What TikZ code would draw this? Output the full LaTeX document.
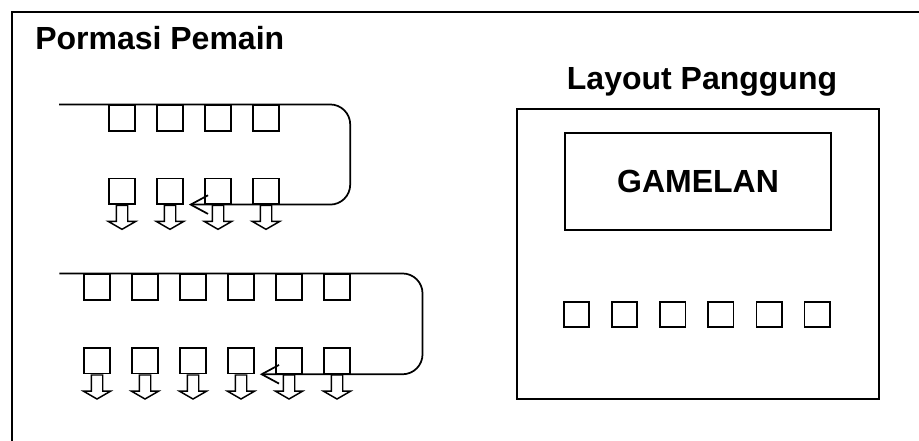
\documentclass[tikz,border=0pt]{standalone}
\usepackage{fontspec}
\setmainfont{Liberation Sans}
\usetikzlibrary{positioning, shapes.arrows, arrows.meta}

\begin{document}
\begin{tikzpicture}[
            x=0.75pt, y=-0.75pt,
            pemain/.style={draw=black, line width=1.3pt, rectangle, minimum size=19pt, inner sep=0pt},
            panah/.style={draw=black, line width=1.1pt, single arrow, shape border rotate=270, minimum height=18pt, minimum width=19.5pt, inner sep=3.75pt, single arrow head extend=6pt, single arrow tip angle=120, anchor=tail},
            alur/.style={line width=1.3pt, rounded corners=15pt, -{Straight Barb[length=13pt, width=14pt]}},
            judul/.style={font=\fontsize{24}{28}\selectfont\bfseries, inner sep=0pt},
            kotak/.style={draw=black, line width=1.3pt, rectangle, inner sep=0pt}
        ]
        \useasboundingbox (0,0) rectangle (919,441);

        % Rahmen
        \draw[line width=1.5pt] (12,441) -- (12,12) -- (919,12);
        \node[judul, anchor=base west] (pp) at (35,50) {Pormasi Pemain};

        % Formasi 1
        \node[pemain] (a1) at (122,118) {};
        \node[pemain, right=15.7pt of a1] (a2) {};
        \node[pemain, right=15.7pt of a2] (a3) {};
        \node[pemain, right=15.7pt of a3] (a4) {};
        \node[pemain, below=34.5pt of a1] (b1) {};
        \node[pemain, right=15.7pt of b1] (b2) {};
        \node[pemain, right=15.7pt of b2] (b3) {};
        \node[pemain, right=15.7pt of b3] (b4) {};
        \node[panah] at (b1.south) {};
        \node[panah] at (b2.south) {};
        \node[panah] at (b3.south) {};
        \node[panah] at (b4.south) {};

        \coordinate[left=37pt of a1.north west] (m1);
        \coordinate[right=53pt of a4.north east] (k1);
        \coordinate[right=4pt of b2.south east] (u1);
        \draw[alur] (m1) -- (k1) -- (k1 |- b4.south) -- (u1);

        % Formasi 2
        \node[pemain] (c1) at (97,287) {};
        \node[pemain, right=15.7pt of c1] (c2) {};
        \node[pemain, right=15.7pt of c2] (c3) {};
        \node[pemain, right=15.7pt of c3] (c4) {};
        \node[pemain, right=15.7pt of c4] (c5) {};
        \node[pemain, right=15.7pt of c5] (c6) {};
        \node[pemain, below=35pt of c1] (d1) {};
        \node[pemain, right=15.7pt of d1] (d2) {};
        \node[pemain, right=15.7pt of d2] (d3) {};
        \node[pemain, right=15.7pt of d3] (d4) {};
        \node[pemain, right=15.7pt of d4] (d5) {};
        \node[pemain, right=15.7pt of d5] (d6) {};
        \node[panah] at (d1.south) {};
        \node[panah] at (d2.south) {};
        \node[panah] at (d3.south) {};
        \node[panah] at (d4.south) {};
        \node[panah] at (d5.south) {};
        \node[panah] at (d6.south) {};

        \coordinate[left=18pt of c1.north west] (m2);
        \coordinate[right=54pt of c6.north east] (k2);
        \coordinate[right=4pt of d4.south east] (u2);
        \draw[alur] (m2) -- (k2) -- (k2 |- d6.south) -- (u2);

        % Panggung
        \node[kotak, minimum width=271.5pt, minimum height=217.5pt] (pg) at (698,254) {};
        \node[judul, above=9pt of pg, xshift=3pt] (lp) {Layout Panggung};
        \node[kotak, judul, draw, minimum width=200pt, minimum height=73pt, below=18pt of pg.north] (gm) {GAMELAN};
        \node[pemain] (e1) at (576.5,314.5) {};
        \node[pemain, right=15.8pt of e1] (e2) {};
        \node[pemain, right=15.8pt of e2] (e3) {};
        \node[pemain, right=15.8pt of e3] (e4) {};
        \node[pemain, right=15.8pt of e4] (e5) {};
        \node[pemain, right=15.8pt of e5] (e6) {};

    \end{tikzpicture}
\end{document}
